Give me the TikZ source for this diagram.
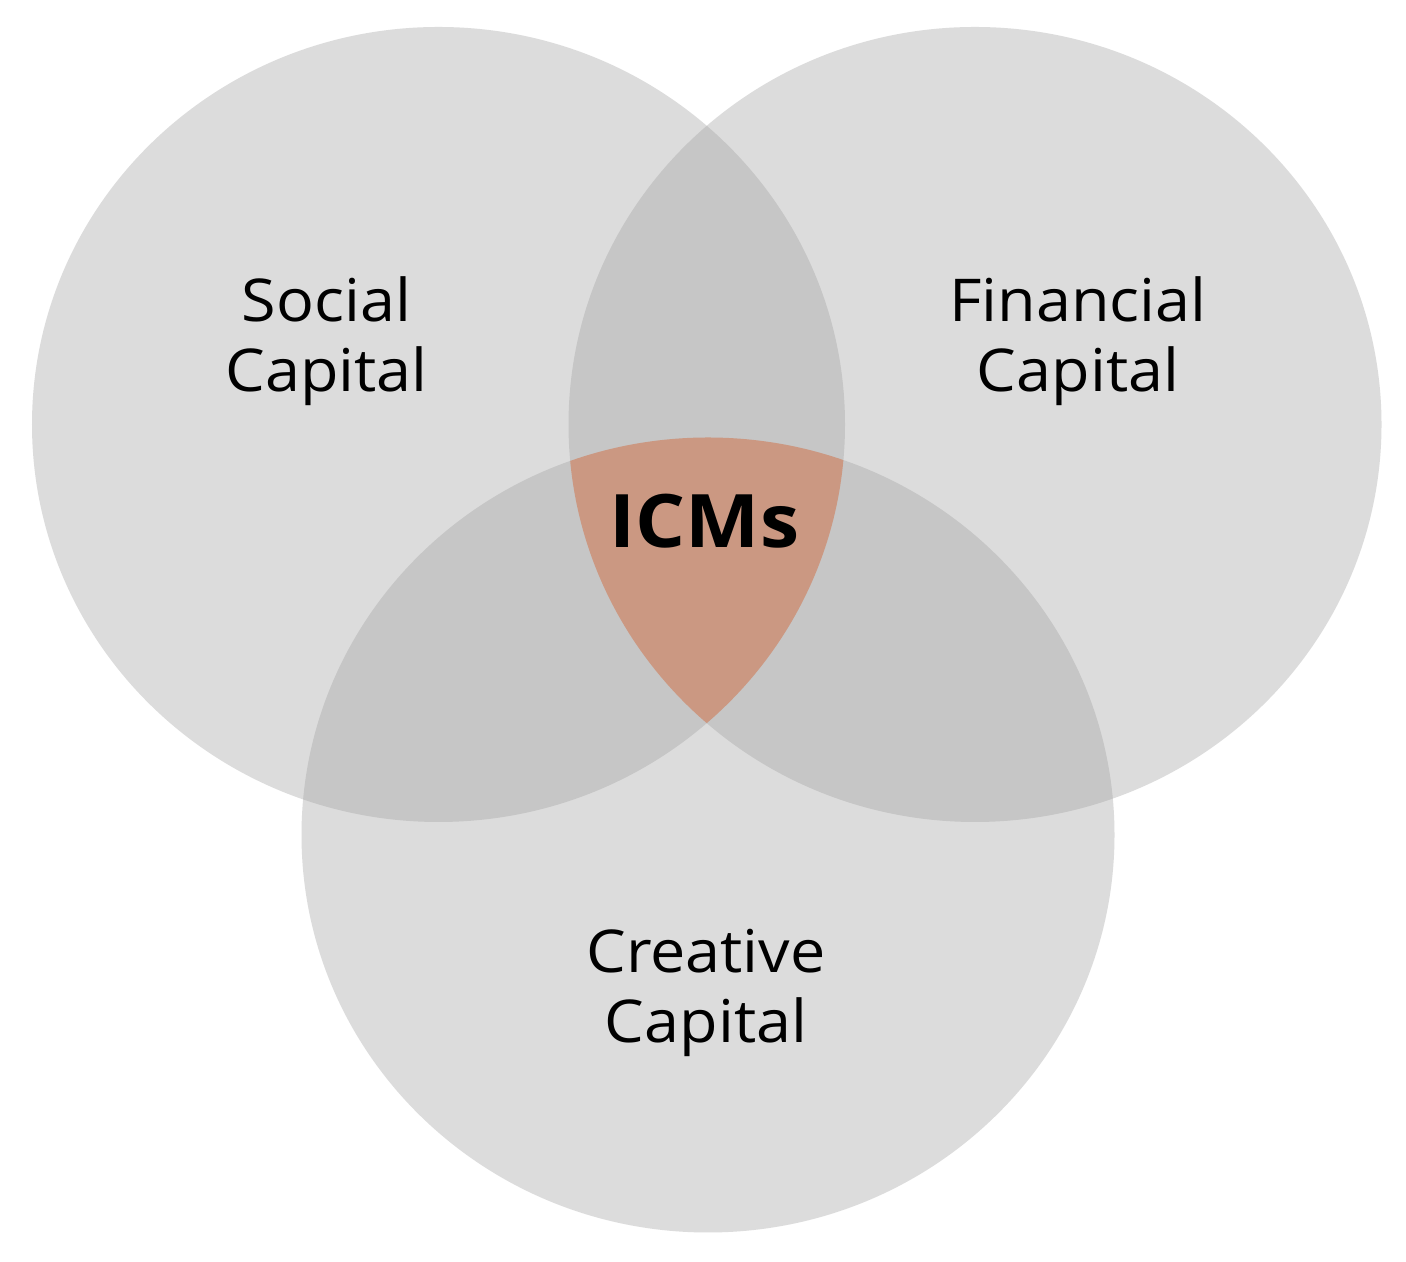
\documentclass[tikz,border=0pt]{standalone}
\usepackage{fontspec}
\setmainfont{Open Sans}[FakeStretch=1.065]
\definecolor{ringgray}{HTML}{DCDCDC}
\definecolor{pairgray}{HTML}{C6C6C6}
\definecolor{icmorange}{HTML}{CB9882}
\tikzset{
  caplabel/.style={align=center, font=\fontsize{16.8}{19.9}\selectfont},
  corelabel/.style={font=\fontsize{21}{24}\selectfont\bfseries}
}
\begin{document}
\begin{tikzpicture}
        \def\rx{4.065}
        \def\ry{3.975}
        \useasboundingbox[fill=white] (0,0) rectangle (14.06,12.62);
        \coordinate (soc) at (4.385,8.375);
        \coordinate (fin) at (9.75,8.375);
        \coordinate (cre) at (7.08,4.27);
        % three rings
        \foreach \c in {soc,fin,cre}{
            \fill[ringgray] (\c) ellipse [x radius=\rx, y radius=\ry];
        }
        % pairwise overlaps
        \foreach \a/\b in {soc/fin,soc/cre,fin/cre}{
            \begin{scope}
                \clip (\a) ellipse [x radius=\rx, y radius=\ry];
                \fill[pairgray] (\b) ellipse [x radius=\rx, y radius=\ry];
            \end{scope}
        }
        % centre
        \begin{scope}
            \clip (soc) ellipse [x radius=\rx, y radius=\ry];
            \clip (fin) ellipse [x radius=\rx, y radius=\ry];
            \fill[icmorange] (cre) ellipse [x radius=\rx, y radius=\ry];
        \end{scope}
        \node[caplabel] (social) at (3.265,9.21) {Social\\Capital};
        \node[caplabel] (financial) at (10.78,9.21) {Financial\\Capital};
        \node[caplabel] (creative) at (7.06,2.69) {Creative\\Capital};
        \node[corelabel] (icms) at (7.045,7.405) {ICMs};
\end{tikzpicture}
\end{document}
